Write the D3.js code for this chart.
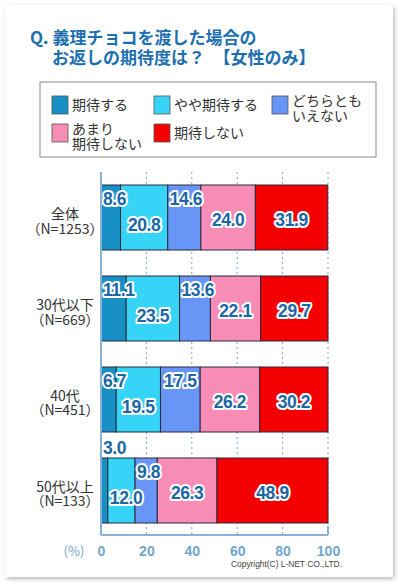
<!DOCTYPE html>
<html>
<head>
<meta charset="utf-8">
<script src="https://cdn.jsdelivr.net/npm/d3@7"></script>
<style>
  body { margin: 0; background: #fff; }
  svg { display: block; }
</style>
</head>
<body>
<svg id="chart"></svg>
<script>
// chart data
var categories = ["全体", "30代以下", "40代", "50代以上"]
var sampleSizes = ["（N=1253）", "（N=669）", "（N=451）", "（N=133）"]
var seriesNames = [["期待する"], ["やや期待する"], ["どちらとも", "いえない"], ["あまり", "期待しない"], ["期待しない"]]
var expectYes = [8.6, 11.1, 6.7, 3.0]
var expectSomewhat = [20.8, 23.5, 19.5, 12.0]
var neither = [14.6, 13.6, 17.5, 9.8]
var notMuch = [24.0, 22.1, 26.2, 26.3]
var expectNo = [31.9, 29.7, 30.2, 48.9]
var tickValues = [0, 20, 40, 60, 80, 100]

var series = [expectYes, expectSomewhat, neither, notMuch, expectNo]
var colors = ["#1890c6", "#36d4f6", "#6896f6", "#f78db6", "#f40000"]

var width = 405, height = 587
var jpFont = "'Noto Sans CJK JP', 'Noto Sans', sans-serif"
var numFont = "'Liberation Sans', Arial, sans-serif"

var svg = d3.select("#chart")
    .attr("width", width)
    .attr("height", height)

// card with shadow
var defs = svg.append("defs")
var shadow = defs.append("filter").attr("id", "shadow")
    .attr("x", "-5%").attr("y", "-5%").attr("width", "110%").attr("height", "110%")
shadow.append("feDropShadow")
    .attr("dx", 1.5).attr("dy", 2).attr("stdDeviation", 2)
    .attr("flood-color", "#000").attr("flood-opacity", 0.28)

svg.append("rect")
    .attr("x", 5).attr("y", 5)
    .attr("width", 388).attr("height", 572)
    .attr("fill", "#fff")
    .attr("filter", "url(#shadow)")

// title
var title = svg.append("text")
    .attr("font-family", jpFont)
    .attr("font-weight", "bold")
    .attr("font-size", "17px")
    .attr("fill", "#1d6fb0")
title.append("tspan").attr("x", 30).attr("y", 44).text("Q. 義理チョコを渡した場合の")
title.append("tspan").attr("x", 52).attr("y", 64).text("お返しの期待度は？　【女性のみ】")

// legend
svg.append("rect")
    .attr("x", 40).attr("y", 82)
    .attr("width", 336).attr("height", 75)
    .attr("fill", "#fff")
    .attr("stroke", "#8a8a8a")

var legendCols = [52, 154, 272]
var legendRows = [96, 124]
var legend = svg.selectAll(".legend")
    .data(seriesNames)
    .enter().append("g")
    .attr("class", "legend")
    .attr("transform", (d, i) => {
        var col = i < 3 ? i : i - 3
        var row = i < 3 ? 0 : 1
        return "translate(" + legendCols[col] + "," + legendRows[row] + ")"
    })

legend.append("rect")
    .attr("width", 16).attr("height", 18)
    .attr("fill", (d, i) => colors[i])
    .attr("stroke", "#555")
    .attr("stroke-width", 0.8)

// one text per line so lines stay separate
legend.each(function (d) {
    var g = d3.select(this)
    var first = d.length == 1 ? 14 : 10
    d.forEach((line, k) => {
        g.append("text")
            .attr("font-family", jpFont)
            .attr("font-size", "14px")
            .attr("fill", "#333")
            .attr("x", 20)
            .attr("y", first + k * 15)
            .text(line)
    })
})

// scales
var x = d3.scaleLinear().domain([0, 100]).range([101, 328])
var y = d3.scaleBand().domain(categories).range([172, 536])
    .paddingInner(0.2857).paddingOuter(0.1429)
var axisY = 535

// gridlines
svg.selectAll(".grid")
    .data(tickValues.slice(1))
    .enter().append("line")
    .attr("class", "grid")
    .attr("x1", d => x(d)).attr("x2", d => x(d))
    .attr("y1", 172).attr("y2", axisY)
    .attr("stroke", "#7fa6c9")
    .attr("stroke-width", 1)
    .attr("stroke-dasharray", "2,3")

// stack
var stacked = categories.map((c, ci) => {
    var acc = 0
    return series.map((s, si) => {
        var seg = { cat: c, si: si, v: s[ci], x0: acc, x1: acc + s[ci] }
        acc += s[ci]
        return seg
    })
})

var rows = svg.selectAll(".row")
    .data(stacked)
    .enter().append("g")
    .attr("class", "row")

rows.selectAll("rect")
    .data(d => d)
    .enter().append("rect")
    .attr("x", d => x(d.x0))
    .attr("y", d => y(d.cat))
    .attr("width", d => x(Math.min(d.x1, 100)) - x(d.x0))
    .attr("height", y.bandwidth())
    .attr("fill", d => colors[d.si])
    .attr("stroke", "#2a2a3a")
    .attr("stroke-width", 1)

// value labels
rows.selectAll(".val")
    .data(d => d)
    .enter().append("text")
    .attr("class", "val")
    .attr("font-family", numFont)
    .attr("font-weight", "bold")
    .attr("font-size", "17.5px")
    .attr("letter-spacing", "-0.4px")
    .attr("fill", "#1b67a4")
    .attr("stroke", "#fff")
    .attr("stroke-width", 4)
    .attr("stroke-linejoin", "round")
    .attr("paint-order", "stroke")
    .attr("text-anchor", "middle")
    .attr("dy", "0.36em")
    .text(d => d3.format(".1f")(d.v))
    .each(function (d) {
        var w = this.getComputedTextLength()
        var cx = (x(d.x0) + x(d.x1)) / 2
        cx = Math.max(cx, x(d.x0) + w / 2 + 2)
        var cy = y(d.cat) + y.bandwidth() / 2
        if (d.v < 5) cy = y(d.cat) - 10
        else if (d.si == 0 || d.si == 2) cy -= 19
        else if (d.si == 1) cy += 7
        else cy += 2
        d3.select(this).attr("x", cx).attr("y", cy)
    })

// category labels, two separate lines
svg.selectAll(".cat")
    .data(categories)
    .enter().append("text")
    .attr("class", "cat")
    .attr("font-family", jpFont)
    .attr("font-size", "14px")
    .attr("fill", "#333")
    .attr("text-anchor", "middle")
    .attr("x", 65)
    .attr("y", d => y(d) + y.bandwidth() / 2 + 1.5)
    .text(d => d)

svg.selectAll(".cat-n")
    .data(categories)
    .enter().append("text")
    .attr("class", "cat-n")
    .attr("font-family", jpFont)
    .attr("font-size", "14px")
    .attr("fill", "#333")
    .attr("text-anchor", "middle")
    .attr("x", 65)
    .attr("y", d => y(d) + y.bandwidth() / 2 + 16)
    .text((d, i) => sampleSizes[i])

// axes
var axis = svg.append("g")
    .attr("transform", "translate(0," + axisY + ")")
    .call(d3.axisBottom(x).tickValues(tickValues).tickSize(0).tickPadding(11))
axis.select(".domain").remove()
axis.selectAll("text")
    .attr("font-family", numFont)
    .attr("font-weight", "bold")
    .attr("font-size", "14px")
    .attr("fill", "#73a6cd")

svg.append("line")
    .attr("x1", x(0)).attr("x2", x(100))
    .attr("y1", axisY).attr("y2", axisY)
    .attr("stroke", "#8ab0d2").attr("stroke-width", 2)
svg.append("line")
    .attr("x1", x(0)).attr("x2", x(0))
    .attr("y1", 172).attr("y2", axisY)
    .attr("stroke", "#8ab0d2").attr("stroke-width", 2)
svg.append("line")
    .attr("x1", x(100)).attr("x2", x(100))
    .attr("y1", axisY - 9).attr("y2", axisY)
    .attr("stroke", "#8ab0d2").attr("stroke-width", 2)

svg.append("text")
    .attr("x", 74).attr("y", 556)
    .attr("text-anchor", "middle")
    .attr("font-family", jpFont)
    .attr("font-size", "13px")
    .attr("fill", "#73a6cd")
    .text("(%)")

svg.append("text")
    .attr("x", 342).attr("y", 567)
    .attr("text-anchor", "end")
    .attr("font-family", numFont)
    .attr("font-size", "8.5px")
    .attr("fill", "#444")
    .attr("textLength", 111)
    .text("Copyright(C) L-NET CO.,LTD.")
</script>
</body>
</html>
